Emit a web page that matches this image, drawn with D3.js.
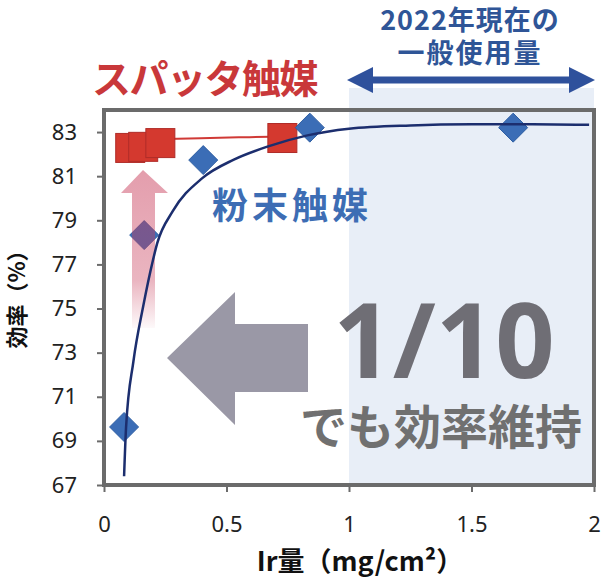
<!DOCTYPE html>
<html>
<head>
<meta charset="utf-8">
<script src="https://cdn.jsdelivr.net/npm/d3@7"></script>
<style>
  body { margin: 0; background: #fff; }
  svg { display: block; }
  .tick text { font-family: "Noto Sans", "Open Sans", sans-serif; font-size: 22px; fill: #222; }
  .jp { font-family: "Noto Sans CJK JP", sans-serif; font-weight: 700; }
</style>
</head>
<body>
<svg id="chart"></svg>
<script>
// values
const xTicks = [0, 0.5, 1, 1.5, 2];
const xTickLabels = ['0', '0.5', '1', '1.5', '2'];
const yTicks = [67, 69, 71, 73, 75, 77, 79, 81, 83];

// スパッタ触媒 (sputter catalyst)
const sputterIr = [0.107, 0.16, 0.23, 0.728];
const sputterEff = [82.28, 82.33, 82.5, 82.73];
const sputterFitIr = [0.12, 0.3, 0.55, 0.75];
const sputterFitEff = [82.66, 82.7, 82.76, 82.8];

// 粉末触媒 (powder catalyst)
const powderIr = [0.082, 0.164, 0.405, 0.84, 1.67];
const powderEff = [69.63, 78.33, 81.73, 83.2, 83.2];
const powderFitIr = [0.082, 0.09, 0.12, 0.16, 0.2, 0.217, 0.28, 0.4, 0.53, 0.67, 0.83, 1.0, 1.25, 1.5, 1.75, 1.98];
const powderFitEff = [67.4, 69.6, 72.6, 75.1, 77.2, 77.95, 79.4, 80.9, 81.75, 82.35, 82.85, 83.15, 83.3, 83.35, 83.35, 83.33];

const width = 601, height = 585;
const margin = {top: 110, right: 7, bottom: 100, left: 104};

const svg = d3.select('#chart').attr('width', width).attr('height', height);

const x = d3.scaleLinear().domain([0, 2]).range([margin.left, width - margin.right]);
const y = d3.scaleLinear().domain([67, 84]).range([height - margin.bottom, margin.top]);

const defs = svg.append('defs');
const pinkGrad = defs.append('linearGradient')
    .attr('id', 'pinkGrad').attr('x1', 0).attr('y1', 0).attr('x2', 0).attr('y2', 1);
pinkGrad.append('stop').attr('offset', '0%').attr('stop-color', '#c83c5a').attr('stop-opacity', 0.5);
pinkGrad.append('stop').attr('offset', '70%').attr('stop-color', '#c83c5a').attr('stop-opacity', 0.38);
pinkGrad.append('stop').attr('offset', '100%').attr('stop-color', '#c83c5a').attr('stop-opacity', 0.03);

// shaded band: today's typical loading (1–2 mg/cm²)
svg.append('rect')
    .attr('x', x(1)).attr('y', 88)
    .attr('width', x(2) - x(1)).attr('height', y(67) - 88)
    .attr('fill', '#e8eef7');

// double-headed arrow over the band
const ay = 80, x0 = x(1) - 2, x1 = x(2) + 1, hl = 26, hh = 13, st = 3.5;
svg.append('path')
    .attr('d', `M${x0},${ay} L${x0 + hl},${ay - hh} L${x0 + hl},${ay - st} L${x1 - hl},${ay - st} L${x1 - hl},${ay - hh}
      L${x1},${ay} L${x1 - hl},${ay + hh} L${x1 - hl},${ay + st} L${x0 + hl},${ay + st} L${x0 + hl},${ay + hh} Z`)
    .attr('fill', '#2f519c');

const topNote = svg.append('text').attr('class', 'jp')
    .attr('text-anchor', 'middle').style('font-size', '27px').attr('fill', '#2f5597');
topNote.append('tspan').attr('x', 470).attr('y', 30).style('letter-spacing', '1px').text('2022年現在の');
topNote.append('tspan').attr('x', 470).attr('y', 63).style('letter-spacing', '2px').text('一般使用量');

svg.append('text').attr('class', 'jp')
    .attr('x', 92).attr('y', 93)
    .style('font-size', '39px').style('letter-spacing', '-1.5px').attr('fill', '#c9383a')
    .text('スパッタ触媒');

// plot frame
svg.append('rect')
    .attr('x', x(0)).attr('y', y(84))
    .attr('width', x(2) - x(0)).attr('height', y(67) - y(84))
    .attr('fill', 'none').attr('stroke', '#6b6b6b').attr('stroke-width', 4);

// sputter fit line and squares
const line = d3.line().x(d => x(d[0])).y(d => y(d[1])).curve(d3.curveMonotoneX);
svg.append('path')
    .datum(sputterFitIr.map((v, i) => [v, sputterFitEff[i]]))
    .attr('d', line).attr('fill', 'none').attr('stroke', '#d03a36').attr('stroke-width', 2);

const sq = 29;
svg.selectAll('.sq')
    .data(sputterIr.map((v, i) => [v, sputterEff[i]]))
    .join('rect').attr('class', 'sq')
    .attr('x', d => x(d[0]) - sq / 2).attr('y', d => y(d[1]) - sq / 2)
    .attr('width', sq).attr('height', sq)
    .attr('fill', '#d4392f').attr('stroke', '#b02c28').attr('stroke-width', 1);

// powder diamonds
const dh = 14.5;
svg.selectAll('.dm')
    .data(powderIr.map((v, i) => [v, powderEff[i]]))
    .join('path').attr('class', 'dm')
    .attr('d', d => {
      const cx = x(d[0]), cy = y(d[1]);
      return `M${cx},${cy - dh} L${cx + dh},${cy} L${cx},${cy + dh} L${cx - dh},${cy} Z`;
    })
    .attr('fill', '#3b6db6').attr('stroke', '#2f5fa3').attr('stroke-width', 1);

// pink upward arrow (improvement)
svg.append('path')
    .attr('d', 'M143,170 L168,193 L155,193 L155,328 L132,328 L132,193 L121,193 Z')
    .attr('fill', 'url(#pinkGrad)');

// powder fit curve
svg.append('path')
    .datum(powderFitIr.map((v, i) => [v, powderFitEff[i]]))
    .attr('d', line).attr('fill', 'none').attr('stroke', '#1c2e6e').attr('stroke-width', 2.5);

// grey left arrow
svg.append('path')
    .attr('d', 'M167,358 L235,292 L235,324 L308,324 L308,392 L235,392 L235,425 Z')
    .attr('fill', '#9a98a6');

const bigNote = svg.append('text').attr('text-anchor', 'middle');
bigNote.append('tspan')
    .attr('x', 444).attr('y', 378)
    .style('font-family', '"Open Sans", "Noto Sans", sans-serif').style('font-weight', 700)
    .style('font-size', '104px').attr('fill', '#6f6e75')
    .text('1/10');
bigNote.append('tspan')
    .attr('x', 441).attr('y', 444)
    .style('font-family', '"Noto Sans CJK JP", sans-serif').style('font-weight', 700)
    .style('font-size', '47px').attr('fill', '#707070')
    .text('でも効率維持');

svg.append('text').attr('class', 'jp')
    .attr('x', 212).attr('y', 219)
    .style('font-size', '36px').style('letter-spacing', '4px').attr('fill', '#3d6db4')
    .text('粉末触媒');

// axes
const xAxis = d3.axisBottom(x).tickValues(xTicks).tickFormat((d, i) => xTickLabels[i])
    .tickSize(7).tickSizeOuter(0).tickPadding(24);
const yAxis = d3.axisLeft(y).tickValues(yTicks).tickFormat(d3.format('d'))
    .tickSize(7).tickSizeOuter(0).tickPadding(20);

const xAxisG = svg.append('g').attr('transform', `translate(0,${y(67)})`).call(xAxis);
const yAxisG = svg.append('g').attr('transform', `translate(${x(0)},0)`).call(yAxis);
[xAxisG, yAxisG].forEach(g => {
  g.select('.domain').remove();
  g.selectAll('.tick line').attr('stroke', '#6b6b6b').attr('stroke-width', 2);
});

// axis titles
svg.append('text').attr('class', 'jp')
    .attr('x', 360).attr('y', 571).attr('text-anchor', 'middle')
    .style('font-size', '27px').attr('fill', '#111')
    .text('Ir量（mg/cm²）');

svg.append('text').attr('class', 'jp')
    .attr('transform', 'translate(25,294) rotate(-90)').attr('text-anchor', 'middle')
    .style('font-size', '22px').attr('fill', '#111')
    .text('効率（%）');
</script>
</body>
</html>
